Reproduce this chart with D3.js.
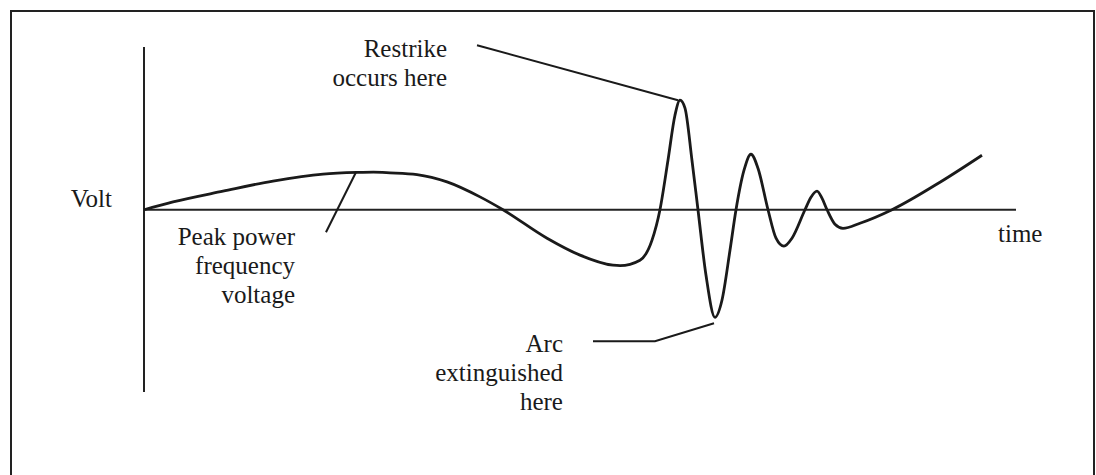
<!DOCTYPE html>
<html lang="en">
<head>
<meta charset="UTF-8">
<title>Restrike voltage</title>
<script src="https://cdn.jsdelivr.net/npm/d3@7"></script>
<style>
  body { margin: 0; background: #fff; }
  svg text { font-family: "Liberation Serif", "Times New Roman", serif; fill: #1a1a1a; }
</style>
</head>
<body>
<div id="chart"></div>
<script>
// waveform (time units 0..100, volt units)
const timeVals = [0, 3.33, 9.06, 14.79, 20.53, 24.43, 26.3, 28.21, 31.31, 34.75, 38.53, 41.17, 46.22, 50.0, 53.78, 54.59,
  56.88, 58.26, 59.17, 60.09, 60.89, 61.47, 62.04, 62.84, 63.53, 64.45, 65.48, 66.28, 67.2, 67.89,
  68.81, 69.61, 70.41, 71.56, 72.48, 73.39, 74.31, 75.8, 76.49, 77.18, 77.75, 78.33, 79.24, 80.16,
  82.11, 85.78, 91.28, 96.1];
const voltVals = [0, 4.8, 11.4, 17.6, 21.9, 22.9, 23.1, 22.7, 21.6, 17.1, 7.9, 0, -17.5, -27.9, -34.1, -34.4,
  -31.0, -18.7, 0, 30.4, 58.1, 67.3, 62.4, 30.4, 0, -40.3, -66.1, -55.6, -24.9, 0,
  24.3, 34.1, 25.5, 0, -17.5, -22.4, -17.5, 0, 7.7, 11.4, 7.1, 0, -8.9, -11.4,
  -8.3, 0, 16.9, 33.5];

// annotation leaders (data units)
const peakLeader = [[20.87, -13.8], [24.31, 23.0]];
const restrikeLeader = [[38.19, 101.1], [61.24, 67.3]];
const arcLeader = [[51.49, -80.8], [58.6, -80.8], [65.37, -69.8]];

// labels: text lines, anchor point (data units), text-anchor
const labels = [
  { lines: ["Volt"], t: -3.67, v: 1.5, anchor: "end" },
  { lines: ["Peak power", "frequency", "voltage"], t: 17.32, v: -21.8, anchor: "end" },
  { lines: ["Restrike", "occurs here"], t: 34.75, v: 93.7, anchor: "end" },
  { lines: ["Arc", "extinguished", "here"], t: 48.05, v: -87.6, anchor: "end" },
  { lines: ["time"], t: 97.94, v: -20.0, anchor: "start" }
];

const width = 1096, height = 475;

const svg = d3.select("#chart").append("svg")
  .attr("width", width)
  .attr("height", height);

// outer frame
svg.append("rect")
  .attr("x", 11).attr("y", 11)
  .attr("width", 1083).attr("height", 480)
  .attr("fill", "none")
  .attr("stroke", "#222")
  .attr("stroke-width", 2);

const x = d3.scaleLinear().domain([0, 100]).range([144, 1016]);
const y = d3.scaleLinear().domain([-112, 100]).range([392, 47]);

// axes as plain lines
svg.append("line")
  .attr("x1", x(0)).attr("x2", x(0))
  .attr("y1", y(-112)).attr("y2", y(100))
  .attr("stroke", "#222").attr("stroke-width", 2);

svg.append("line")
  .attr("x1", x(0)).attr("x2", x(100))
  .attr("y1", y(0)).attr("y2", y(0))
  .attr("stroke", "#222").attr("stroke-width", 2);

// the waveform
const pts = timeVals.map((t, i) => [t, voltVals[i]]);
const line = d3.line()
  .x(d => x(d[0]))
  .y(d => y(d[1]))
  .curve(d3.curveMonotoneX);

svg.append("path")
  .datum(pts)
  .attr("d", line)
  .attr("fill", "none")
  .attr("stroke", "#1a1a1a")
  .attr("stroke-width", 2.8)
  .attr("stroke-linejoin", "round");

// leader lines
const straight = d3.line().x(d => x(d[0])).y(d => y(d[1]));
[peakLeader, restrikeLeader, arcLeader].forEach(l => {
  svg.append("path")
    .attr("d", straight(l))
    .attr("fill", "none")
    .attr("stroke", "#1a1a1a")
    .attr("stroke-width", 2);
});

// labels
labels.forEach(lb => {
  const txt = svg.append("text")
    .attr("x", x(lb.t))
    .attr("y", y(lb.v))
    .attr("text-anchor", lb.anchor)
    .style("font-size", "25px");
  lb.lines.forEach((s, i) => {
    txt.append("tspan")
      .attr("x", x(lb.t))
      .attr("dy", i === 0 ? 0 : 28.8)
      .text(s);
  });
});
</script>
</body>
</html>
